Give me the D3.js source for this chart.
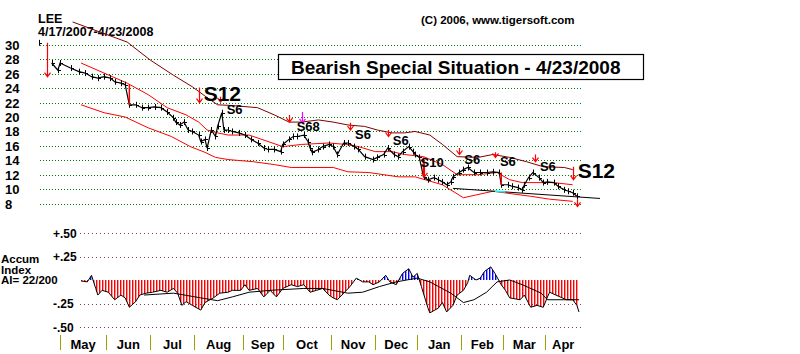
<!DOCTYPE html>
<html>
<head>
<meta charset="utf-8">
<script src="https://cdn.jsdelivr.net/npm/d3@7"></script>
<style>
  body { margin: 0; background: #fff; }
  svg { display: block; font-family: "Liberation Sans", Arial, sans-serif; font-weight: bold; }
</style>
</head>
<body>
<div id="chart"></div>
<script>
// ---- data ----
const startDate = "2007-04-17";
const endDate = "2008-04-23";
const holidays = ["2007-05-28", "2007-07-04", "2007-09-03", "2007-11-22", "2007-12-25",
                  "2008-01-01", "2008-01-21", "2008-02-18", "2008-03-21"];
const monthNames = ["May", "Jun", "Jul", "Aug", "Sep", "Oct", "Nov", "Dec", "Jan", "Feb", "Mar", "Apr"];

const priceTicks = [8, 10, 12, 14, 16, 18, 20, 22, 24, 26, 28, 30];
const aiTicks = [0.5, 0.25, -0.25, -0.5];
const aiTickLabels = ["+.50", "+.25", "-.25", "-.50"];

// trading-day index / closing price
const priceDay = [0, 6, 9, 10, 15, 19, 22, 25, 28, 31, 34, 36, 39, 41, 43, 46, 49, 52, 55, 58,
  61, 64, 65, 67, 69, 71, 73, 76, 77, 79, 80, 82, 84, 85, 87, 88, 90, 92, 95, 98,
  101, 104, 107, 109, 112, 115, 116, 119, 121, 123, 126, 128, 129, 130, 133, 135, 138, 140, 142, 145,
  147, 150, 152, 155, 159, 161, 164, 166, 169, 171, 173, 176, 178, 179, 181, 183, 185, 188, 190, 192,
  194, 196, 197, 200, 202, 204, 207, 210, 213, 216, 219, 220, 223, 225, 228, 230, 231, 233, 235, 238,
  240, 242, 245, 247, 250, 252, 254, 256];
const priceClose = [30.3, 27.5, 26.5, 27.5, 26.8, 26.3, 26.1, 25.6, 25.4, 25.6, 25.4, 24.9, 24.7, 24.5, 21.7, 21.7, 21.3, 21.3, 21.4, 21.3,
  20.7, 19.9, 19.3, 18.9, 19.3, 18.2, 18.0, 17.5, 16.6, 16.9, 15.7, 18.2, 17.3, 18.7, 20.6, 18.2, 18.2, 18.0, 17.8, 17.5,
  16.9, 16.4, 15.7, 15.5, 15.5, 15.2, 16.2, 16.9, 17.3, 17.3, 17.5, 16.6, 15.7, 15.1, 15.5, 15.9, 16.2, 15.9, 14.8, 16.4,
  16.4, 15.9, 15.5, 14.5, 14.1, 14.4, 14.8, 15.7, 14.8, 14.5, 15.2, 15.9, 15.2, 14.8, 14.4, 11.7, 11.3, 11.6, 11.3, 11.0,
  10.6, 11.0, 11.7, 12.3, 12.7, 13.0, 12.3, 12.3, 12.3, 12.4, 12.3, 10.6, 10.6, 10.4, 10.2, 9.9, 10.6, 11.6, 12.3, 11.6,
  10.9, 11.0, 10.9, 10.4, 9.9, 9.7, 9.5, 9.0];
const redDays = [43, 183, 220];

const upperDay = [16, 42, 53, 64, 73, 80, 85, 92, 104, 112, 119, 125, 133, 140, 147, 155, 161, 168, 174, 179, 186, 192, 199, 209, 216, 224, 232, 240, 250, 254];
const upperVal = [33.2, 30.4, 27.9, 25.8, 24.2, 22.7, 21.7, 21.6, 21.3, 20.3, 19.3, 19.3, 19.6, 19.3, 18.9, 18.7, 18.2, 17.8, 17.8, 18.0, 17.5, 16.2, 14.5, 14.4, 14.8, 14.4, 13.8, 13.1, 13.0, 12.7];
const midDay = [20, 42, 52, 61, 70, 76, 80, 85, 90, 100, 109, 116, 125, 138, 146, 152, 160, 168, 174, 183, 192, 199, 209, 218, 224, 230, 245, 254];
const midVal = [27.5, 24.7, 23.1, 21.3, 20.3, 19.3, 18.2, 17.8, 17.5, 17.5, 16.6, 15.9, 16.2, 16.4, 16.2, 15.9, 15.2, 15.2, 14.8, 14.5, 13.4, 12.0, 12.0, 12.3, 11.3, 10.9, 10.9, 10.6];
const lowerDay = [20, 31, 41, 52, 63, 72, 79, 84, 90, 102, 112, 120, 140, 147, 157, 171, 179, 192, 202, 216, 234, 243, 254];
const lowerVal = [21.7, 20.6, 20.0, 18.5, 17.3, 15.9, 15.1, 14.4, 14.1, 13.8, 13.4, 13.0, 13.0, 12.4, 12.3, 11.7, 11.7, 10.6, 8.8, 9.7, 9.0, 8.6, 8.3];
const trendDay = [197, 267];
const trendVal = [10.1, 8.7];
const trendCyan = [217, 222];

// sell signals
const sigDay = [4, 76, 86, 119, 125, 148, 166, 183, 200, 217, 236, 254, 256];
const sigTop = [30.3, 24.1, 22.8, 20.3, 20.7, 19.2, 18.2, 13.7, 15.7, 15.1, 14.8, 13.1, 8.6];
const sigBottom = [25.6, 22.0, 22.1, 19.3, 19.2, 18.2, 17.3, 11.7, 14.8, 14.4, 13.8, 11.3, 7.6];
const sigLabel = ["", "S12", "S6", "", "S68", "S6", "S6", "S10", "S6", "S6", "S6", "S12", ""];
const sigColor = ["red", "red", "red", "red", "magenta", "red", "red", "red", "red", "red", "red", "red", "red"];

// accumulation index and its moving average
const aiDay = [20, 23, 25, 27, 28, 30, 33, 36, 39, 41, 43, 46, 48, 51, 54, 58, 61, 64, 66, 68,
  70, 73, 77, 79, 83, 86, 90, 92, 96, 98, 100, 104, 107, 110, 113, 116, 120, 123, 126, 129,
  132, 135, 138, 140, 142, 145, 148, 151, 154, 157, 159, 162, 165, 167, 170, 173, 176, 178, 180, 182,
  185, 186, 190, 192, 194, 197, 199, 202, 204, 205, 208, 210, 212, 215, 217, 220, 222, 224, 229, 231,
  234, 237, 240, 242, 243, 246, 249, 251, 254, 256, 257];
const aiVal = [-0.01, -0.02, 0.05, -0.09, -0.16, -0.11, -0.13, -0.21, -0.16, -0.19, -0.29, -0.23, -0.16, -0.14, -0.13, -0.11, -0.13, -0.09, -0.14, -0.27,
  -0.23, -0.27, -0.32, -0.24, -0.19, -0.14, -0.13, -0.11, -0.11, -0.05, -0.11, -0.09, -0.18, -0.11, -0.18, -0.09, -0.05, -0.07, -0.05, -0.13,
  -0.11, -0.09, -0.16, -0.19, -0.21, -0.14, -0.07, 0.02, -0.02, -0.02, -0.05, -0.02, 0.05, -0.02, -0.05, 0.07, 0.12, 0.03, 0.07, -0.07,
  -0.29, -0.35, -0.30, -0.24, -0.34, -0.27, -0.16, -0.11, -0.03, 0.05, 0.00, 0.02, 0.09, 0.14, 0.07, -0.05, -0.11, -0.19, -0.21, -0.16,
  -0.29, -0.27, -0.29, -0.18, -0.13, -0.16, -0.19, -0.21, -0.21, -0.27, -0.34];
const maDay = [50, 64, 77, 85, 92, 100, 110, 126, 135, 147, 154, 162, 170, 180, 186, 196, 202, 207, 213, 218, 224, 230, 239, 242, 250, 257];
const maVal = [-0.16, -0.14, -0.19, -0.22, -0.18, -0.13, -0.11, -0.09, -0.09, -0.14, -0.13, -0.07, -0.02, 0.02, -0.02, -0.14, -0.24, -0.21, -0.13, -0.02, 0.00, -0.05, -0.14, -0.21, -0.21, -0.21];

// ---- trading calendar ----
const parse = d3.timeParse("%Y-%m-%d");
const fmt = d3.timeFormat("%Y-%m-%d");
const tradingDays = d3.timeDay.range(parse(startDate), d3.timeDay.offset(parse(endDate), 1))
  .filter(d => d.getDay() !== 0 && d.getDay() !== 6 && !holidays.includes(fmt(d)));
const monthStarts = [];
tradingDays.forEach((d, i) => {
  if (i > 0 && d.getMonth() !== tradingDays[i - 1].getMonth()) monthStarts.push(i);
});

// ---- layout ----
const W = 800, H = 354;
const x = d3.scaleLinear().domain([0, tradingDays.length - 1]).range([39, 579]);
const y = d3.scaleLinear().domain([8, 30]).range([203.5, 45]);
const yA = d3.scaleLinear().domain([-0.5, 0.5]).range([327, 233]);
const gridL = 40, gridR = 582, aiGridL = 80;

const svg = d3.select("#chart").append("svg")
  .attr("width", W).attr("height", H).attr("viewBox", [0, 0, W, H]);

const zip = (a, b) => a.map((d, i) => ({ day: d, val: b[i] }));
const priceData = zip(priceDay, priceClose);
const line = d3.line().x(d => x(d.day)).y(d => y(d.val));
const aiLine = d3.line().x(d => x(d.day)).y(d => yA(d.val));

// header text
svg.append("text").attr("x", 38).attr("y", 23).style("font-size", "12.5px").text("LEE");
svg.append("text").attr("x", 38).attr("y", 35.5).style("font-size", "12.5px").text("4/17/2007-4/23/2008");
svg.append("text").attr("x", 421).attr("y", 24).style("font-size", "11.5px").text("(C) 2006, www.tigersoft.com");

// price grid
svg.append("g").selectAll("line").data(priceTicks).join("line")
  .attr("x1", gridL).attr("x2", gridR)
  .attr("y1", d => Math.round(y(d)) + 0.5).attr("y2", d => Math.round(y(d)) + 0.5)
  .attr("stroke", "#008000").attr("stroke-dasharray", "1,2");
svg.append("g").selectAll("text").data(priceTicks).join("text")
  .attr("x", 5).attr("y", d => y(d) + 5)
  .style("font-size", "13px").text(d => d);

// title box
svg.append("rect").attr("x", 278.5).attr("y", 54.5).attr("width", 365).attr("height", 25)
  .attr("fill", "#fff").attr("stroke", "#000").attr("stroke-width", 1.2);
svg.append("text").attr("x", 291).attr("y", 73.5).style("font-size", "19px")
  .text("Bearish Special Situation - 4/23/2008");

// bands
const bands = [
  { d: zip(upperDay, upperVal), c: "#800000" },
  { d: zip(midDay, midVal), c: "#ff0000" },
  { d: zip(lowerDay, lowerVal), c: "#ff0000" }
];
svg.append("g").selectAll("path").data(bands).join("path")
  .attr("d", b => line(b.d)).attr("fill", "none").attr("stroke", b => b.c).attr("stroke-width", 1);

// trend line with cyan segment
const trend = zip(trendDay, trendVal);
svg.append("path").attr("d", line(trend)).attr("fill", "none").attr("stroke", "#000");
const tv = d3.scaleLinear().domain(trendDay).range(trendVal);
svg.append("path").attr("d", line(trendCyan.map(d => ({ day: d, val: tv(d) }))))
  .attr("fill", "none").attr("stroke", "#00ffff").attr("stroke-width", 1.5);

// price line and bars
svg.append("path").attr("d", line(priceData.slice(1))).attr("fill", "none").attr("stroke", "#000").attr("stroke-width", 1.2);
const bars = svg.append("g").attr("stroke", "#000");
bars.selectAll("line.v").data(priceData).join("line").attr("class", "v")
  .attr("x1", d => Math.round(x(d.day)) + 0.5).attr("x2", d => Math.round(x(d.day)) + 0.5)
  .attr("y1", d => y(d.val) - 3).attr("y2", d => y(d.val) + 3);
bars.selectAll("line.h").data(priceData).join("line").attr("class", "h")
  .attr("x1", d => Math.round(x(d.day)) + 0.5).attr("x2", d => Math.round(x(d.day)) + 3)
  .attr("y1", d => Math.round(y(d.val)) + 0.5).attr("y2", d => Math.round(y(d.val)) + 0.5);
// big down days in red
svg.append("g").selectAll("line").data(redDays).join("line")
  .attr("x1", d => x(d)).attr("x2", d => x(d))
  .attr("y1", d => { const k = priceDay.indexOf(d); return y(priceClose[k - 1]); })
  .attr("y2", d => y(priceClose[priceDay.indexOf(d)]))
  .attr("stroke", "#ff0000").attr("stroke-width", 1.5);

// signals
const sigs = sigDay.map((d, i) => ({ day: d, top: sigTop[i], bot: sigBottom[i], label: sigLabel[i], color: sigColor[i] }));
const sg = svg.append("g");
sg.selectAll("path").data(sigs).join("path")
  .attr("d", s => {
    const sx = Math.round(x(s.day)) + 0.5, t = y(s.top), b = y(s.bot);
    return `M${sx},${t}V${b}M${sx - 3},${b - 4}L${sx},${b}L${sx + 3},${b - 4}`;
  })
  .attr("fill", "none").attr("stroke", s => s.color === "magenta" ? "#ff00ff" : "#ff0000").attr("stroke-width", 1.2);
const labelStyle = {
  S12: { dx: 5, dy: -2, size: 21 },
  S6: { dx: 5, dy: 9, size: 13 },
  S68: { dx: -5, dy: 8, size: 13 },
  S10: { dx: -3, dy: -10, size: 13 }
};
sg.selectAll("text").data(sigs.filter(s => s.label)).join("text")
  .attr("x", s => x(s.day) + labelStyle[s.label].dx + (s.day === 86 ? 2 : 0))
  .attr("y", s => y(s.bot) + labelStyle[s.label].dy + (s.day === 86 ? 3 : 0))
  .style("font-size", s => labelStyle[s.label].size + "px")
  .text(s => s.label);

// ---- accumulation index panel ----
svg.append("g").selectAll("line").data(aiTicks).join("line")
  .attr("x1", aiGridL).attr("x2", gridR)
  .attr("y1", d => Math.round(yA(d)) + 0.5).attr("y2", d => Math.round(yA(d)) + 0.5)
  .attr("stroke", "#8a3a6a").attr("stroke-dasharray", "1,3");
svg.append("g").selectAll("text").data(aiTicks).join("text")
  .attr("x", 53).attr("y", d => yA(d) + 4.5)
  .style("font-size", "12px").text((d, i) => aiTickLabels[i]);
svg.append("g").selectAll("text").data(["Accum", "Index", "AI= 22/200"]).join("text")
  .attr("x", 1).attr("y", (d, i) => 263 + i * 10.5)
  .style("font-size", "11.5px").text(d => d);

const defs = svg.append("defs");
[["redStripe", "#ff0000"], ["blueStripe", "#0000ff"]].forEach(([id, c]) => {
  defs.append("pattern").attr("id", id).attr("patternUnits", "userSpaceOnUse")
    .attr("width", 3).attr("height", 10)
    .append("rect").attr("width", 1.4).attr("height", 10).attr("fill", c);
});
defs.append("clipPath").attr("id", "below").append("rect")
  .attr("x", 0).attr("y", yA(0)).attr("width", W).attr("height", 100);
defs.append("clipPath").attr("id", "above").append("rect")
  .attr("x", 0).attr("y", yA(0) - 100).attr("width", W).attr("height", 100);

const aiData = zip(aiDay, aiVal);
const area = d3.area().x(d => x(d.day)).y0(yA(0)).y1(d => yA(d.val));
svg.append("path").attr("d", area(aiData)).attr("fill", "url(#redStripe)").attr("clip-path", "url(#below)");
svg.append("path").attr("d", area(aiData)).attr("fill", "url(#blueStripe)").attr("clip-path", "url(#above)");
svg.append("path").attr("d", aiLine(aiData)).attr("fill", "none").attr("stroke", "#000");
svg.append("path").attr("d", aiLine(zip(maDay, maVal))).attr("fill", "none").attr("stroke", "#000");

// month axis
const bounds = monthStarts.concat([tradingDays.length]);
svg.append("g").selectAll("line").data(monthStarts).join("line")
  .attr("x1", d => Math.round(x(d)) + 0.5).attr("x2", d => Math.round(x(d)) + 0.5)
  .attr("y1", 335).attr("y2", 350).attr("stroke", "#a0a000");
svg.append("g").selectAll("text").data(monthStarts).join("text")
  .attr("x", (d, i) => (x(d) + x(bounds[i + 1])) / 2)
  .attr("y", 349).attr("text-anchor", "middle")
  .style("font-size", "13px").text((d, i) => monthNames[i]);
</script>
</body>
</html>
